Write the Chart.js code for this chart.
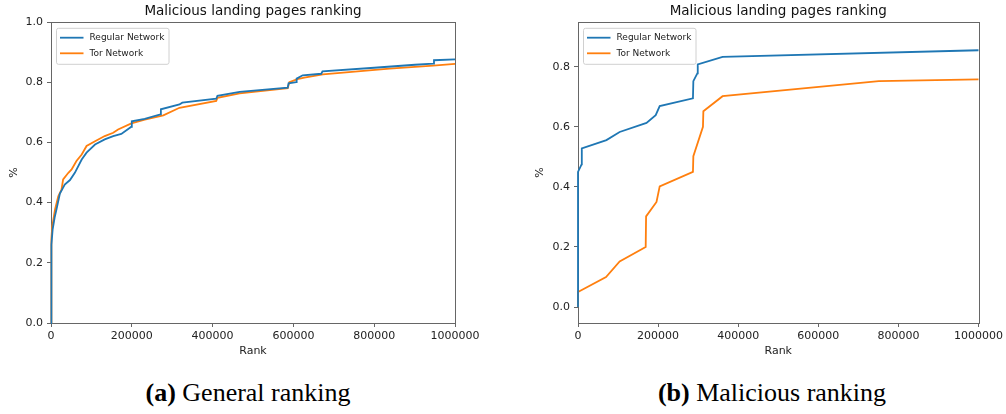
<!DOCTYPE html>
<html>
<head>
<meta charset="utf-8">
<script src="https://cdn.jsdelivr.net/npm/chart.js@4/dist/chart.umd.min.js"></script>
<style>
  body { margin: 0; background: #fff; width: 1006px; height: 414px; position: relative; overflow: hidden; }
  canvas { position: absolute; top: 0; }
  #chartA { left: 0; }
  #chartB { left: 503px; }
  .caption { position: absolute; top: 378px; font-family: "Liberation Serif", "Times New Roman", serif; font-size: 26px; line-height: 30px; text-align: center; width: 400px; color: #000; }
</style>
</head>
<body>
<canvas id="chartA" width="503" height="370"></canvas>
<canvas id="chartB" width="503" height="370"></canvas>
<div class="caption" style="left:48px"><b>(a)</b> General ranking</div>
<div class="caption" style="left:572px"><b>(b)</b> Malicious ranking</div>
<script>
// data
const seriesNames = ['Regular Network', 'Tor Network'];
const xTicks = [0, 200000, 400000, 600000, 800000, 1000000];
const yTicksA = [0.0, 0.2, 0.4, 0.6, 0.8, 1.0];
const yTicksB = [0.0, 0.2, 0.4, 0.6, 0.8];

// (a) general ranking
const rankRegA = [0, 500, 1500, 4000, 9000, 14000, 22000, 28000, 34000, 47000, 59000, 76000, 88000, 109000, 133000, 154000, 174000, 199000, 200000, 232000, 271000, 272000, 318000, 325000, 409000, 412000, 467000, 586000, 588000, 607000, 608000, 623000, 669000, 672000, 800000, 901000, 946000, 948000, 1000000];
const regA = [0, 0.20, 0.26, 0.31, 0.35, 0.38, 0.43, 0.445, 0.46, 0.475, 0.499, 0.543, 0.566, 0.593, 0.61, 0.621, 0.628, 0.652, 0.67, 0.678, 0.693, 0.71, 0.726, 0.732, 0.745, 0.755, 0.768, 0.782, 0.796, 0.80, 0.812, 0.823, 0.828, 0.836, 0.848, 0.858, 0.862, 0.873, 0.876];
const rankTorA = [0, 500, 1500, 3000, 10000, 18000, 26000, 30000, 43000, 51000, 63000, 76000, 88000, 109000, 133000, 154000, 166000, 199000, 232000, 278000, 318000, 409000, 412000, 467000, 586000, 590000, 610000, 627000, 673000, 838000, 946000, 1000000];
const torA = [0, 0.22, 0.28, 0.32, 0.377, 0.421, 0.443, 0.477, 0.499, 0.51, 0.538, 0.56, 0.588, 0.604, 0.621, 0.632, 0.643, 0.663, 0.676, 0.69, 0.715, 0.738, 0.748, 0.763, 0.780, 0.800, 0.810, 0.815, 0.826, 0.845, 0.855, 0.861];

// (b) malicious ranking
const rankRegB = [0, 0, 9000, 9500, 71000, 104000, 171000, 194000, 204000, 287000, 288000, 298000, 299000, 361000, 1000000];
const regB = [0.0, 0.45, 0.475, 0.528, 0.556, 0.583, 0.613, 0.639, 0.669, 0.695, 0.752, 0.778, 0.808, 0.833, 0.855];
const rankTorB = [0, 0, 70000, 104000, 169000, 170000, 196000, 204000, 287000, 288000, 312000, 313000, 361000, 751000, 1000000];
const torB = [0.0, 0.05, 0.10, 0.152, 0.20, 0.302, 0.35, 0.402, 0.45, 0.502, 0.60, 0.652, 0.702, 0.752, 0.758];

const colors = ['#1f77b4', '#ff7f0e'];
const font = 'DejaVu Sans';
const axisColor = '#666';

function points(xs, ys) {
  return xs.map((x, i) => ({ x: x, y: ys[i] }));
}

// matplotlib style box round the axes, drawn under the lines
const spines = {
  id: 'spines',
  beforeDatasetsDraw(chart) {
    const a = chart.chartArea, ctx = chart.ctx;
    ctx.save();
    ctx.strokeStyle = axisColor;
    ctx.lineWidth = 1;
    ctx.strokeRect(Math.round(a.left) + 0.5, Math.round(a.top) + 0.5, Math.round(a.right - a.left), Math.round(a.bottom - a.top));
    ctx.restore();
  }
};

// legend inside the upper left corner
const innerLegend = {
  id: 'innerLegend',
  afterDatasetsDraw(chart) {
    const a = chart.chartArea, ctx = chart.ctx;
    const x = a.left + 5.5, y = a.top + 6.3, w = 112.5, h = 36;
    ctx.save();
    ctx.beginPath();
    ctx.roundRect(x, y, w, h, 2);
    ctx.fillStyle = 'rgba(255,255,255,0.8)';
    ctx.fill();
    ctx.strokeStyle = '#d0d0d0';
    ctx.lineWidth = 1;
    ctx.stroke();
    ctx.font = '9px "' + font + '"';
    ctx.textBaseline = 'middle';
    chart.data.datasets.forEach((ds, i) => {
      const ly = a.top + 15.7 + i * 15.6;
      ctx.strokeStyle = ds.borderColor;
      ctx.lineWidth = 1.8;
      ctx.beginPath();
      ctx.moveTo(a.left + 9, ly);
      ctx.lineTo(a.left + 32.5, ly);
      ctx.stroke();
      ctx.fillStyle = '#222';
      ctx.fillText(ds.label, a.left + 38.5, ly);
    });
    ctx.restore();
  }
};

function makeChart(id, series, yMin, yMax, yTicks, yWidth, rightPad, yTitlePad) {
  return new Chart(document.getElementById(id), {
    type: 'line',
    data: {
      datasets: series.map((s, i) => ({
        label: seriesNames[i],
        data: s,
        borderColor: colors[i],
        backgroundColor: colors[i],
        borderWidth: 1.8,
        pointRadius: 0,
        tension: 0,
        fill: false,
        clip: false
      }))
    },
    options: {
      responsive: false,
      animation: false,
      events: [],
      layout: { padding: { top: 0, left: 0, right: rightPad, bottom: 0 } },
      plugins: {
        legend: { display: false },
        tooltip: { enabled: false },
        title: {
          display: true,
          fullSize: false,
          text: 'Malicious landing pages ranking',
          color: '#111',
          font: { family: font, size: 13.5, weight: 'normal' },
          padding: { top: 3.6, bottom: 2.2 }
        }
      },
      scales: {
        x: {
          type: 'linear',
          min: 0,
          max: 1000000,
          afterBuildTicks: s => { s.ticks = xTicks.map(v => ({ value: v })); },
          afterFit: s => { s.height = 47; },
          grid: { drawOnChartArea: false, drawTicks: true, tickLength: 4, color: axisColor },
          border: { display: true, color: axisColor, width: 1 },
          ticks: {
            color: '#222', padding: 3, maxRotation: 0, autoSkip: false,
            font: { family: font, size: 11 },
            callback: v => String(v)
          },
          title: {
            display: true, text: 'Rank', color: '#222',
            font: { family: font, size: 11 },
            padding: { top: 0, bottom: 12.4 }
          }
        },
        y: {
          type: 'linear',
          min: yMin,
          max: yMax,
          afterBuildTicks: s => { s.ticks = yTicks.map(v => ({ value: v })); },
          afterFit: s => { s.width = yWidth; },
          grid: { drawOnChartArea: false, drawTicks: true, tickLength: 4, color: axisColor },
          border: { display: true, color: axisColor, width: 1 },
          ticks: {
            color: '#222', padding: 4, autoSkip: false,
            font: { family: font, size: 11 },
            callback: v => Number(v).toFixed(1)
          },
          title: {
            display: true, text: '%', color: '#222',
            font: { family: font, size: 11 },
            padding: { top: yTitlePad, bottom: 0 }
          }
        }
      }
    },
    plugins: [spines, innerLegend]
  });
}

makeChart('chartA', [points(rankRegA, regA), points(rankTorA, torA)], 0, 1.0, yTicksA, 51, 48, 7.4);
makeChart('chartB', [points(rankRegB, regB), points(rankTorB, torB)], -0.053, 0.949, yTicksB, 75, 26, 30.4);
</script>
</body>
</html>
